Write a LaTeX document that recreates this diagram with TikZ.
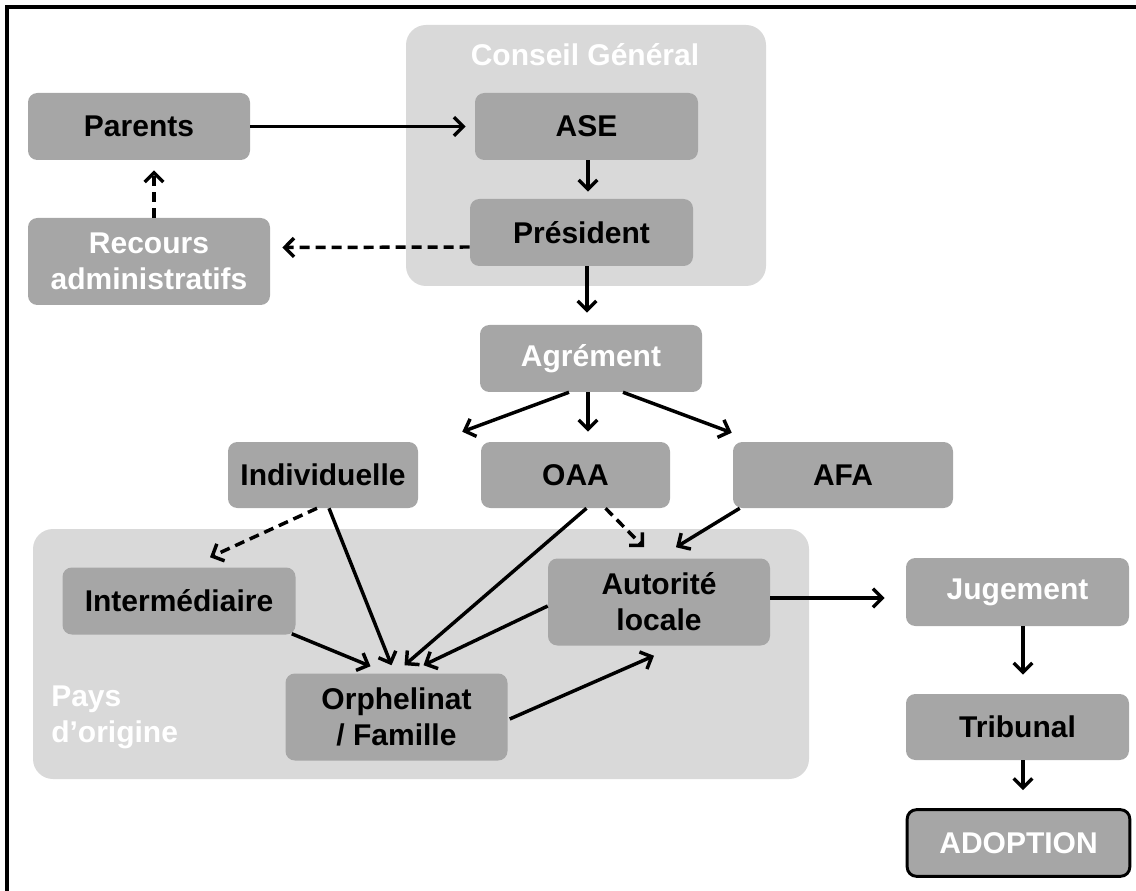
\documentclass[tikz,border=0pt]{standalone}
\usepackage{fontspec}
\setmainfont{Liberation Sans}
\usetikzlibrary{arrows.meta,calc}
\definecolor{boxgray}{RGB}{166,166,166}
\definecolor{zonegray}{RGB}{217,217,217}

\begin{document}
\begin{tikzpicture}[x=0.75pt,y=0.75pt,yscale=-1,xscale=1,
  box/.style={rounded corners=7pt, fill=boxgray, align=center, inner sep=0pt,
    minimum width=166.5pt, minimum height=50.25pt,
    font=\fontsize{22.5}{27}\selectfont\bfseries},
  tall/.style={minimum height=65.25pt},
  wtext/.style={text=white},
  zone/.style={fill=zonegray, rounded corners=15pt},
  zonelabel/.style={text=white, inner sep=0pt, font=\fontsize{22.5}{27}\selectfont\bfseries},
  arr/.style={line width=2.6pt, -{Straight Barb[length=7pt,width=14pt]}},
  darr/.style={arr, dash pattern=on 7.5pt off 4.5pt}]
\useasboundingbox (0,0) rectangle (1136,891);

% frame
\draw[line width=3pt] (7,891) -- (7,7) -- (1136,7);

% zones
\fill[zone] (406,25) rectangle (766,286);
\node[zonelabel] (cglabel) at (585,55) {Conseil Général};
\fill[zone] (33,529) rectangle (809,779);
\node[zonelabel, anchor=west, align=left] (payslabel) at (51,717) {Pays\\d’origine};

% boxes
\node[box] (parents) at (139,126.5) {Parents};
\node[box, wtext, tall, minimum width=181.5pt] (recours) at (149,261.5) {Recours\\administratifs};
\node[box, minimum width=167.25pt] (ase) at (586.5,126.5) {ASE};
\node[box, minimum width=167.25pt] (pres) at (581.5,232.5) {Président};
\node[box, wtext] (agr) at (591,358.5) {Agrément};
\node[box, minimum width=142.5pt, minimum height=49.5pt] (indiv) at (323,475) {Individuelle};
\node[box, minimum width=141.75pt, minimum height=49.5pt] (oaa) at (575.5,475) {OAA};
\node[box, minimum width=165pt, minimum height=49.5pt] (afa) at (843,475) {AFA};
\node[box, minimum width=174.75pt] (inter) at (179,601) {Intermédiaire};
\node[box, tall] (autor) at (659,602) {Autorité\\locale};
\node[box, tall] (orph) at (396.5,717) {Orphelinat\\/ Famille};
\node[box, wtext, minimum width=167.25pt, minimum height=51pt] (jug) at (1017.5,592) {Jugement};
\node[box, minimum width=167.25pt, minimum height=49.5pt] (trib) at (1017.5,727) {Tribunal};
\node[box, wtext, draw=black, line width=2.2pt, minimum width=167pt, minimum height=50pt] (adopt) at (1018.5,843) {ADOPTION};

% connectors
\draw[arr] (parents.east) -- ($(ase.west)+(-9,0)$);
\draw[arr] ($(ase.south)+(1.5,0)$) -- ($(pres.north)+(6.5,-7)$);
\draw[darr] ($(pres.west)+(0,14.5)$) -- ($(recours.east)+(12,-14)$);
\draw[darr] ($(recours.north)+(5,0)$) -- ($(parents.south)+(15,10)$);
\draw[arr] ($(pres.south)+(5.5,0)$) -- ($(agr.north)+(-4,-12)$);
\draw[arr] ($(agr.south)+(-22,0)$) -- ($(indiv.north east)+(44,-10)$);
\draw[arr] ($(agr.south)+(-3,0)$) -- ($(oaa.north)+(12.5,-10)$);
\draw[arr] ($(agr.south)+(32,0)$) -- ($(afa.north west)+(-1,-9)$);
\draw[darr] ($(indiv.south)+(-6,0)$) -- ($(inter.north)+(31,-10)$);
\draw[arr] ($(indiv.south)+(6,0)$) -- ($(orph.north)+(-5,-8)$);
\draw[arr] ($(oaa.south)+(11,0)$) -- ($(orph.north)+(8,-8)$);
\draw[darr] ($(oaa.south)+(30,0)$) -- ($(autor.north)+(-15,-11)$);
\draw[arr] ($(afa.south west)+(7,0)$) -- ($(autor.north)+(17,-11)$);
\draw[arr] ($(autor.west)+(0,4)$) -- ($(orph.north)+(27,-8)$);
\draw[arr] ($(inter.south east)+(-4,-1)$) -- ($(orph.north)+(-26,-7)$);
\draw[arr] ($(orph.east)+(2,2)$) -- ($(autor.south)+(-5,10)$);
\draw[arr] ($(autor.east)+(0,-4)$) -- ($(jug.west)+(-21,6)$);
\draw[arr] ($(jug.south)+(5.5,0)$) -- ($(trib.north)+(5.5,-19)$);
\draw[arr] ($(trib.south)+(5.5,0)$) -- ($(adopt.north)+(4.5,-18)$);

\end{tikzpicture}
\end{document}
